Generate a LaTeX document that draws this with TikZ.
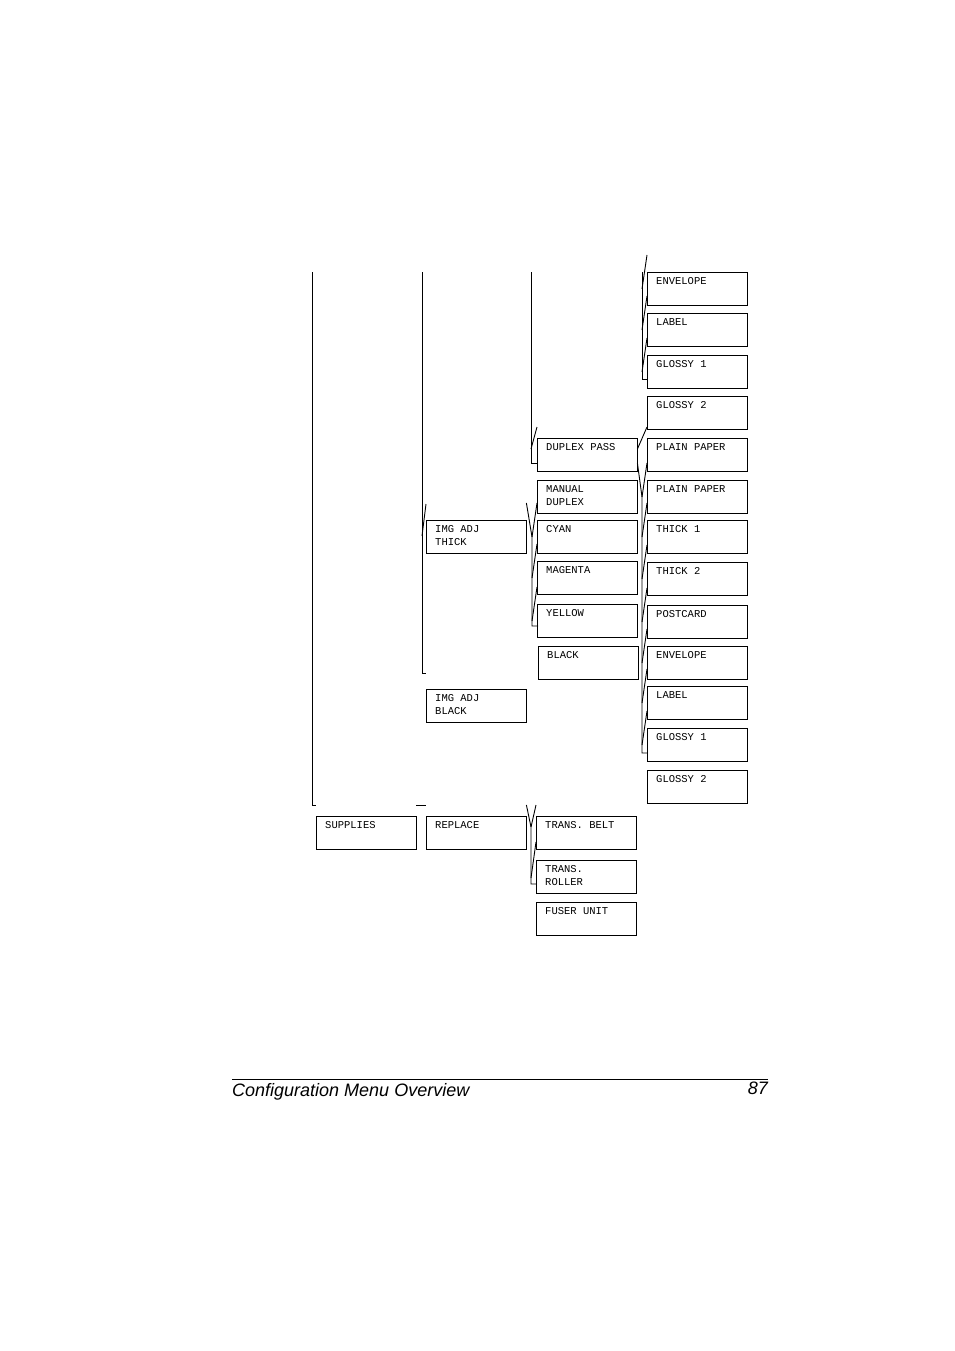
\documentclass[tikz,border=0pt]{standalone}
\usepackage{fontspec}
\setmainfont{Liberation Sans}
\newfontfamily\menufont{Liberation Mono}
\usetikzlibrary{positioning}
\tikzset{
  menu/.style={
    rectangle,
    draw=black,
    anchor=north west,
    inner xsep=9pt,
    inner ysep=5pt,
    font=\menufont\fontsize{10.5}{13}\selectfont,
  },
  link/.style={
    draw=black,
    line width=0.9pt,
  },
}
\newcommand{\menuitem}[4]{%
  \node[menu] (#1) at (#2,#3) {\parbox[t][23pt][t]{82pt}{#4}};}

\begin{document}
\begin{tikzpicture}[x=1pt, y=-1pt]
  \useasboundingbox (0,0) rectangle (954,1351);

  % column 4, top part
  \menuitem{envA}{647}{272}{ENVELOPE}
  \menuitem{labA}{647}{313}{LABEL}
  \menuitem{glaA}{647}{355}{GLOSSY 1}
  \menuitem{glbA}{647}{396}{GLOSSY 2}
  \menuitem{ppA}{647}{438}{PLAIN PAPER}
  \menuitem{ppB}{647}{480}{PLAIN PAPER}
  \menuitem{thkA}{647}{520}{THICK 1}
  \menuitem{thkB}{647}{562}{THICK 2}
  \menuitem{post}{647}{605}{POSTCARD}
  \menuitem{envB}{647}{646}{ENVELOPE}
  \menuitem{labB}{647}{686}{LABEL}
  \menuitem{glaB}{647}{728}{GLOSSY 1}
  \menuitem{glbB}{647}{770}{GLOSSY 2}

  % column 3
  \menuitem{dpass}{537}{438}{DUPLEX PASS}
  \menuitem{mdup}{537}{480}{MANUAL\\DUPLEX}
  \menuitem{cyan}{537}{520}{CYAN}
  \menuitem{mag}{537}{561}{MAGENTA}
  \menuitem{yel}{537}{604}{YELLOW}
  \menuitem{blk}{538}{646}{BLACK}
  \menuitem{belt}{536}{816}{TRANS. BELT}
  \menuitem{roll}{536}{860}{TRANS.\\ROLLER}
  \menuitem{fuser}{536}{902}{FUSER UNIT}

  % column 2 and 1
  \menuitem{adjT}{426}{520}{IMG ADJ\\THICK}
  \menuitem{adjB}{426}{689}{IMG ADJ\\BLACK}
  \menuitem{repl}{426}{816}{REPLACE}
  \menuitem{supp}{316}{816}{SUPPLIES}

  % buses
  \coordinate (topA) at (312,272);
  \coordinate (topB) at (422,272);
  \coordinate (topC) at (531,272);
  \coordinate (topD) at (642,272);
  \draw[link] (topA) |- ([yshift=11pt]supp.north west);
  \draw[link] (topB) |- ([yshift=16pt]adjB.north west);
  \draw[link] (topB |- adjT.north west) ++(0,16) -- ([yshift=16pt]adjT.north west);
  \draw[link] (topC) |- ([yshift=17pt]mdup.north west);
  \draw[link] (topC |- dpass.north west) ++(0,11) -- ([yshift=11pt]dpass.north west);
  \draw[link] (topD) |- ([yshift=17pt]glbA.north west);
  \foreach \n in {envA,labA,glaA}
    \draw[link] (topD |- \n.north west) ++(0,17) -- ([yshift=17pt]\n.north west);
  \draw[link] (dpass.east |- ppA.north west) ++(0,11) -- ([yshift=11pt]ppA.north west);

  % manual duplex bus
  \coordinate (busD) at (642,497);
  \draw[link] ([yshift=17pt]mdup.north east) -- (busD) |- ([yshift=17pt]glbB.north west);
  \foreach \n in {ppB,thkA,thkB,post,envB,labB,glaB}
    \draw[link] (busD |- \n.north west) ++(0,17) -- ([yshift=17pt]\n.north west);

  % img adj thick bus
  \coordinate (busC) at (532,537);
  \draw[link] ([yshift=17pt]adjT.north east) -- (busC) |- ([yshift=20pt]blk.north west);
  \foreach \n in {cyan,mag,yel}
    \draw[link] (busC |- \n.north west) ++(0,17) -- ([yshift=17pt]\n.north west);

  % supplies row
  \draw[link] ([yshift=11pt]supp.north east) -- ([yshift=11pt]repl.north west);
  \coordinate (busR) at (531,827);
  \draw[link] ([yshift=11pt]repl.north east) -- (busR) |- ([yshift=18pt]fuser.north west);
  \draw[link] (busR) -- ([yshift=11pt]belt.north west);
  \draw[link] (busR |- roll.north west) ++(0,18) -- ([yshift=18pt]roll.north west);

  % footer
  \coordinate (footL) at (232,1079);
  \coordinate (footR) at (768,1079);
  \draw[line width=0.6pt] (footL) -- (footR);
  \node[anchor=north west, inner sep=0pt, font=\fontsize{18}{20}\selectfont\itshape]
    (title) at (232,1083) {Configuration Menu Overview};
  \node[anchor=north east, inner sep=0pt, font=\fontsize{18}{20}\selectfont\itshape]
    (page) at (768,1082) {87};
\end{tikzpicture}
\end{document}
